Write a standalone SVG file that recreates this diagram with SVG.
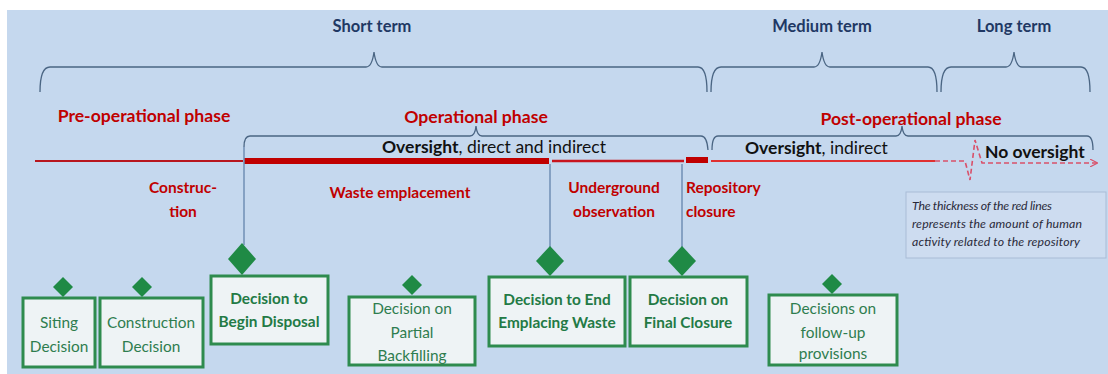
<svg xmlns="http://www.w3.org/2000/svg" width="1108" height="374" viewBox="0 0 1108 374">
<defs>
<style>
.term{font-family:Lato,"Liberation Sans",sans-serif;font-weight:bold;font-size:16.5px;fill:#1f3864;text-anchor:middle}
.phase{font-family:Lato,"Liberation Sans",sans-serif;font-weight:bold;font-size:17.6px;fill:#c00000;text-anchor:middle}
.act{font-family:Lato,"Liberation Sans",sans-serif;font-weight:bold;font-size:15.5px;fill:#c00000;text-anchor:middle}
.actl{text-anchor:start}
.ov{font-family:Lato,"Liberation Sans",sans-serif;font-size:17.5px;fill:#111}
.brace{fill:none;stroke:#4a6583;stroke-width:1.3}
.conn{stroke:#6f8fb5;stroke-width:1.5;fill:none}
.box{fill:#eef3f5;stroke:#2e8b4e;stroke-width:3}
.dia{fill:#1f8a45}
.bt{font-family:Lato,"Liberation Sans",sans-serif;font-size:15.4px;fill:#2e7d4f;text-anchor:middle}
.bb{font-weight:bold;fill:#237a45}
.note{font-family:Lato,"Liberation Sans",sans-serif;font-style:italic;font-size:12.3px;fill:#2a2a3a}
</style>
<marker id="arr" viewBox="0 0 10 10" refX="9" refY="5" markerWidth="8" markerHeight="8" markerUnits="userSpaceOnUse" orient="auto">
<path d="M0,0 L10,5 L0,10" fill="none" stroke="#d9506a" stroke-width="1.5"/>
</marker>
</defs>
<rect x="0" y="0" width="1108" height="374" fill="#ffffff"/>
<rect x="7" y="10" width="1101" height="364" fill="#c5d8ee"/>

<g id="terms">
<text class="term" x="372" y="32">Short term</text>
<text class="term" x="822" y="32">Medium term</text>
<text class="term" x="1014" y="32">Long term</text>
<path class="brace" d="M40,92 Q40,67 50,67 L366,67 Q372,67 374,52 Q376,67 382,67 L698,67 Q707,67 707,92"/>
<path class="brace" d="M711,92 Q711,67 721,67 L814,67 Q820,67 822,52 Q824,67 830,67 L928,67 Q937,67 937,92"/>
<path class="brace" d="M941,92 Q941,67 951,67 L1006,67 Q1012,67 1014,52 Q1016,67 1022,67 L1081,67 Q1090,67 1090,92"/>
</g>

<g id="phases">
<text class="phase" x="144" y="122">Pre-operational phase</text>
<text class="phase" x="476" y="123">Operational phase</text>
<text class="phase" x="911" y="125">Post-operational phase</text>
<path class="brace" d="M244,147 Q244,136 250,136 L470,136 Q475,136 476,126 Q477,136 482,136 L701,136 Q707,136 708,150"/>
<path class="brace" d="M712,150 Q712,136 718,136 L896,136 Q901,136 902,126 Q903,136 908,136 L1087,136 Q1093,136 1093,150"/>
<text class="ov" x="382" y="153"><tspan font-weight="bold">Oversight</tspan>, direct  and  indirect</text>
<text class="ov" x="745" y="154"><tspan font-weight="bold">Oversight</tspan>, indirect</text>
<text class="ov" x="985" y="158" font-weight="bold">No oversight</text>
</g>

<g id="timeline">
<line x1="35" y1="161" x2="243" y2="161" stroke="#b8161e" stroke-width="2.2"/>
<line x1="244" y1="161" x2="549" y2="161" stroke="#c00000" stroke-width="6"/>
<line x1="552" y1="161" x2="684" y2="161" stroke="#c8141e" stroke-width="2.5"/>
<line x1="686" y1="160" x2="708" y2="160" stroke="#c00000" stroke-width="6"/>
<line x1="711" y1="161" x2="935" y2="161" stroke="#e03030" stroke-width="2"/>
<path d="M935,161 L965,161 L970,180 L975,140 L982,163 L1097,163" fill="none" stroke="#d9506a" stroke-width="1.6" stroke-dasharray="5,3" marker-end="url(#arr)"/>
</g>

<g id="activities">
<text class="act" x="183" y="193">Construc-</text>
<text class="act" x="183" y="217">tion</text>
<text class="act" x="400" y="198">Waste emplacement</text>
<text class="act" x="614" y="193">Underground</text>
<text class="act" x="614" y="217">observation</text>
<text class="act actl" x="686" y="193">Repository</text>
<text class="act actl" x="686" y="217">closure</text>
</g>

<g id="connectors">
<line class="conn" x1="244" y1="147" x2="244" y2="245"/>
<line class="conn" x1="550" y1="164" x2="550" y2="248"/>
<line class="conn" x1="682" y1="164" x2="682" y2="248"/>
</g>

<g id="note">
<rect x="906" y="192" width="200" height="66" fill="#cddcf0" stroke="#a9bcd6" stroke-width="1"/>
<text class="note" x="912" y="210" textLength="140" lengthAdjust="spacing">The thickness of the red lines</text>
<text class="note" x="912" y="228" textLength="170" lengthAdjust="spacing">represents the amount of human</text>
<text class="note" x="912" y="246" textLength="168" lengthAdjust="spacing">activity related to the repository</text>
</g>

<g id="siting">
<path class="dia" d="M63,277 L73,287 L63,297 L53,287 Z"/>
<rect class="box" x="23" y="298" width="72" height="69"/>
<text class="bt" x="59" y="328">Siting</text>
<text class="bt" x="59" y="352">Decision</text>
</g>

<g id="construction">
<path class="dia" d="M142,277 L152,287 L142,297 L132,287 Z"/>
<rect class="box" x="100" y="298" width="103" height="69"/>
<text class="bt" x="151" y="328">Construction</text>
<text class="bt" x="151" y="352">Decision</text>
</g>

<g id="begin">
<path class="dia" d="M242,243 L256,259 L242,275 L228,259 Z"/>
<rect class="box" x="211" y="276" width="117" height="68"/>
<text class="bt bb" x="269" y="304">Decision to</text>
<text class="bt bb" x="269" y="327">Begin Disposal</text>
</g>

<g id="backfill">
<path class="dia" d="M412,275 L422,285 L412,295 L402,285 Z"/>
<rect class="box" x="349" y="297" width="126" height="68"/>
<text class="bt" x="412" y="314">Decision on</text>
<text class="bt" x="412" y="338">Partial</text>
<text class="bt" x="412" y="361">Backfilling</text>
</g>

<g id="endwaste">
<path class="dia" d="M550,246 L564,261 L550,276 L536,261 Z"/>
<rect class="box" x="489" y="277" width="136" height="69"/>
<text class="bt bb" x="557" y="305">Decision to End</text>
<text class="bt bb" x="557" y="328">Emplacing Waste</text>
</g>

<g id="closure">
<path class="dia" d="M682,246 L696,261 L682,276 L668,261 Z"/>
<rect class="box" x="630" y="277" width="117" height="69"/>
<text class="bt bb" x="688" y="305">Decision on</text>
<text class="bt bb" x="688" y="328">Final Closure</text>
</g>

<g id="followup">
<path class="dia" d="M832,274 L842,284 L832,294 L822,284 Z"/>
<rect class="box" x="769" y="295" width="128" height="70"/>
<text class="bt" x="833" y="314">Decisions on</text>
<text class="bt" x="833" y="338">follow-up</text>
<text class="bt" x="833" y="359">provisions</text>
</g>
</svg>
